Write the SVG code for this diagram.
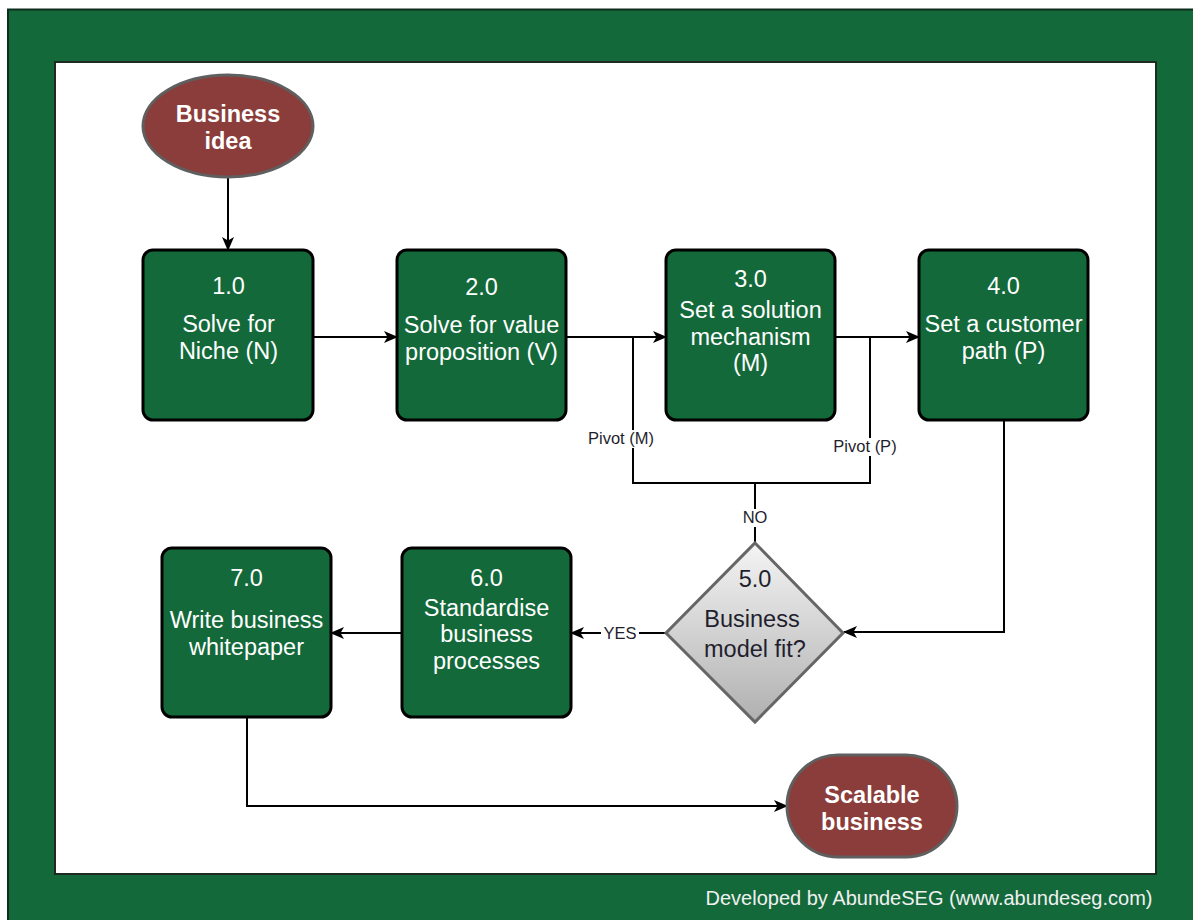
<svg xmlns="http://www.w3.org/2000/svg" width="1193" height="920" viewBox="0 0 1193 920">
  <style>
    .frame { fill: #13693A; stroke: #0f2d1c; stroke-width: 2; }
    .sheet { fill: #ffffff; stroke: #1e2a22; stroke-width: 2; }
    .step { fill: #13693A; stroke: #000000; stroke-width: 3; }
    .terminal { fill: #8A3D3A; stroke: #5f5f5f; stroke-width: 3; }
    .decision { fill: url(#greyFade); stroke: #666666; stroke-width: 3; }
    .wire { fill: none; stroke: #000000; stroke-width: 2; }
    .t { font-family: "Liberation Sans", Arial, sans-serif; text-anchor: middle; }
    .stepText { font-size: 23.5px; fill: #ffffff; }
    .termText { font-size: 23.5px; fill: #ffffff; font-weight: bold; }
    .decText { font-size: 23.5px; fill: #1f1f2e; }
    .lbl { font-size: 16.5px; fill: #1f1f2e; }
    .lblBg { fill: #ffffff; }
    .footer { font-size: 20px; fill: #f0f0f0; }
  </style>
  <defs>
    <linearGradient id="greyFade" x1="0" y1="0" x2="0" y2="1">
      <stop offset="0" stop-color="#f4f4f4"/>
      <stop offset="1" stop-color="#b0b0b0"/>
    </linearGradient>
    <marker id="arrow" viewBox="0 0 14 12" refX="13" refY="6" markerWidth="14" markerHeight="12" markerUnits="userSpaceOnUse" orient="auto">
      <path d="M0,0 L14,6 L0,12 L3.5,6 Z" fill="#000000"/>
    </marker>
  </defs>

  <!-- page frame -->
  <rect class="frame" x="8" y="9.5" width="1200" height="920"/>
  <rect class="sheet" x="55" y="62" width="1101" height="812"/>

  <!-- connectors -->
  <g id="connectors">
    <line class="wire" x1="228" y1="177" x2="228" y2="250" marker-end="url(#arrow)"/>
    <line class="wire" x1="314" y1="337" x2="397" y2="337" marker-end="url(#arrow)"/>
    <line class="wire" x1="566" y1="337" x2="666" y2="337" marker-end="url(#arrow)"/>
    <line class="wire" x1="835" y1="337" x2="919" y2="337" marker-end="url(#arrow)"/>
    <polyline class="wire" points="1004,420 1004,632 844,632" marker-end="url(#arrow)"/>
    <!-- NO branch: pivot back to steps 3.0 and 4.0 -->
    <polyline class="wire" points="755,543 755,483"/>
    <polyline class="wire" points="633,337 633,483 870,483 870,337"/>
    <!-- YES branch -->
    <line class="wire" x1="666" y1="633" x2="571" y2="633" marker-end="url(#arrow)"/>
    <line class="wire" x1="402" y1="633" x2="331" y2="633" marker-end="url(#arrow)"/>
    <polyline class="wire" points="247,717 247,806 787,806" marker-end="url(#arrow)"/>

    <rect class="lblBg" x="586" y="430" width="72" height="18"/>
    <text class="t lbl" x="621" y="444">Pivot (M)</text>
    <rect class="lblBg" x="831" y="438" width="68" height="18"/>
    <text class="t lbl" x="865" y="452">Pivot (P)</text>
    <rect class="lblBg" x="742" y="509" width="26" height="18"/>
    <text class="t lbl" x="755" y="523">NO</text>
    <rect class="lblBg" x="601" y="625" width="38" height="18"/>
    <text class="t lbl" x="620" y="639">YES</text>
  </g>

  <!-- start -->
  <g id="business-idea">
    <ellipse class="terminal" cx="228" cy="126" rx="85" ry="51"/>
    <text class="t termText" x="228" y="122">Business</text>
    <text class="t termText" x="228" y="149">idea</text>
  </g>

  <g id="step-1">
    <rect class="step" x="143" y="250" width="170" height="170" rx="10"/>
    <text class="t stepText" x="228.5" y="294">1.0</text>
    <text class="t stepText" x="228.5" y="332">Solve for</text>
    <text class="t stepText" x="228.5" y="359">Niche (N)</text>
  </g>

  <g id="step-2">
    <rect class="step" x="397" y="250" width="169" height="170" rx="10"/>
    <text class="t stepText" x="481.5" y="295">2.0</text>
    <text class="t stepText" x="481.5" y="333">Solve for value</text>
    <text class="t stepText" x="481.5" y="360">proposition (V)</text>
  </g>

  <g id="step-3">
    <rect class="step" x="666" y="250" width="169" height="170" rx="10"/>
    <text class="t stepText" x="750.5" y="287">3.0</text>
    <text class="t stepText" x="750.5" y="318">Set a solution</text>
    <text class="t stepText" x="750.5" y="345">mechanism</text>
    <text class="t stepText" x="750.5" y="371">(M)</text>
  </g>

  <g id="step-4">
    <rect class="step" x="919" y="250" width="169" height="170" rx="10"/>
    <text class="t stepText" x="1003.5" y="294">4.0</text>
    <text class="t stepText" x="1003.5" y="332">Set a customer</text>
    <text class="t stepText" x="1003.5" y="359">path (P)</text>
  </g>

  <g id="step-5">
    <polygon class="decision" points="755,543 843,633 755,722 666,633"/>
    <text class="t decText" x="755" y="587">5.0</text>
    <text class="t decText" x="752" y="627">Business</text>
    <text class="t decText" x="755" y="657">model fit?</text>
  </g>

  <g id="step-6">
    <rect class="step" x="402" y="548" width="169" height="169" rx="10"/>
    <text class="t stepText" x="486.5" y="586">6.0</text>
    <text class="t stepText" x="486.5" y="616">Standardise</text>
    <text class="t stepText" x="486.5" y="642">business</text>
    <text class="t stepText" x="486.5" y="669">processes</text>
  </g>

  <g id="step-7">
    <rect class="step" x="162" y="548" width="169" height="169" rx="10"/>
    <text class="t stepText" x="246.5" y="586">7.0</text>
    <text class="t stepText" x="246.5" y="628">Write business</text>
    <text class="t stepText" x="246.5" y="655">whitepaper</text>
  </g>

  <!-- end -->
  <g id="scalable-business">
    <rect class="terminal" x="787" y="755" width="170" height="102" rx="51"/>
    <text class="t termText" x="872" y="803">Scalable</text>
    <text class="t termText" x="872" y="830">business</text>
  </g>

  <text class="t footer" x="929" y="905">Developed by AbundeSEG (www.abundeseg.com)</text>
</svg>
